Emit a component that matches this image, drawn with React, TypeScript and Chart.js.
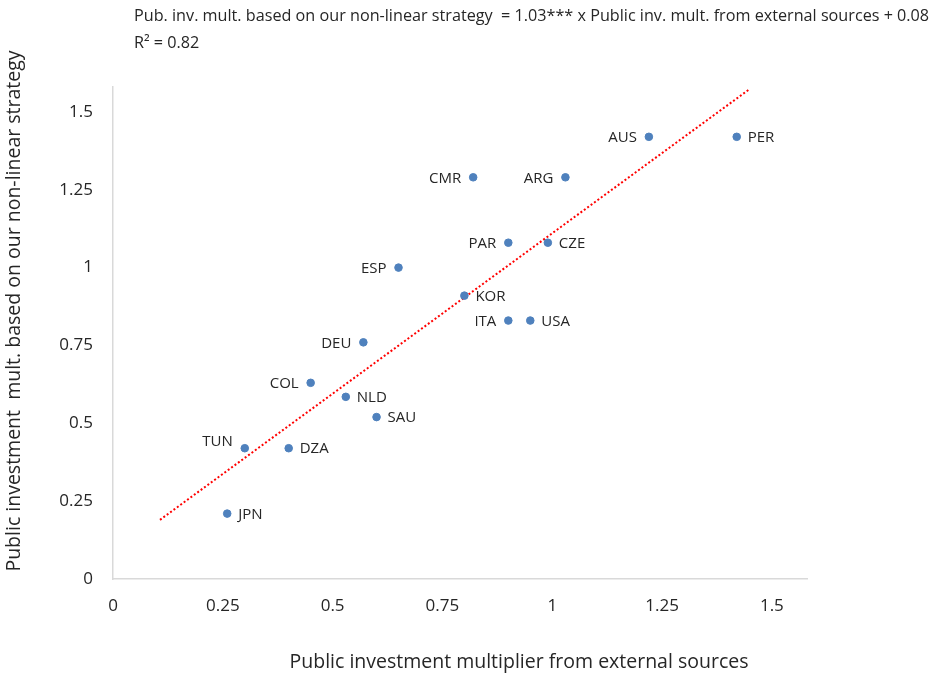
import React, { useEffect, useRef } from "react";
import { Chart, registerables } from "chart.js";

Chart.register(...registerables);

const countries = ["AUS", "PER", "CMR", "ARG", "PAR", "CZE", "ESP", "KOR", "ITA", "USA", "DEU", "COL", "NLD", "SAU", "TUN", "DZA", "JPN"];
const externalMult = [1.22, 1.42, 0.82, 1.03, 0.9, 0.99, 0.65, 0.8, 0.9, 0.95, 0.57, 0.45, 0.53, 0.6, 0.3, 0.4, 0.26];
const nonLinearMult = [1.42, 1.42, 1.29, 1.29, 1.08, 1.08, 1.0, 0.91, 0.83, 0.83, 0.76, 0.63, 0.585, 0.52, 0.42, 0.42, 0.21];
const labelSide = ["left", "right", "left", "left", "left", "right", "left", "right", "left", "right", "left", "left", "right", "right", "left", "right", "right"];
const trendX = [0.107, 1.45];
const trendY = [0.19, 1.574];
const tickValues = [0, 0.25, 0.5, 0.75, 1, 1.25, 1.5];
const titleLine1 = "Pub. inv. mult. based on our non-linear strategy  = 1.03*** x Public inv. mult. from external sources + 0.08";
const titleLine2 = "R² = 0.82";
const xTitle = "Public investment multiplier from external sources";
const yTitle = "Public investment  mult. based on our non-linear strategy";

const FONT = "'Open Sans', 'Noto Sans', sans-serif";

const textPlugin = {
  id: "customText",
  afterDatasetsDraw(chart: any) {
    const ctx = chart.ctx;
    const meta = chart.getDatasetMeta(0);
    ctx.save();
    ctx.fillStyle = "#262626";
    ctx.font = `15px ${FONT}`;
    ctx.textBaseline = "middle";
    meta.data.forEach((pt: any, i: number) => {
      const side = labelSide[i];
      const dy = countries[i] === "TUN" ? -6 : 1;
      if (side === "left") {
        ctx.textAlign = "right";
        ctx.fillText(countries[i], pt.x - 12, pt.y + dy);
      } else {
        ctx.textAlign = "left";
        ctx.fillText(countries[i], pt.x + 11, pt.y + dy);
      }
    });
    ctx.restore();
  },
  afterDraw(chart: any) {
    const ctx = chart.ctx;
    ctx.save();
    ctx.fillStyle = "#262626";
    ctx.textBaseline = "middle";
    ctx.textAlign = "left";
    ctx.font = `16.2px ${FONT}`;
    ctx.fillText(titleLine1, 134, 16);
    ctx.fillText(titleLine2, 134, 43);
    ctx.font = `19.5px ${FONT}`;
    ctx.textAlign = "center";
    ctx.fillText(xTitle, 519, 662);
    ctx.translate(14, 311);
    ctx.rotate(-Math.PI / 2);
    ctx.fillText(yTitle, 0, 0);
    ctx.restore();
  },
};

export default function App() {
  const ref = useRef<HTMLCanvasElement>(null);
  useEffect(() => {
    document.body.style.margin = "0";
    const canvas = ref.current!;
    const chart = new Chart(canvas, {
      type: "scatter",
      data: {
        datasets: [
          {
            label: "Countries",
            data: countries.map((_, i) => ({ x: externalMult[i], y: nonLinearMult[i] })),
            backgroundColor: "#4f81bd",
            borderColor: "#4f81bd",
            pointRadius: 3.8,
            pointHoverRadius: 3.8,
          },
          {
            type: "line",
            label: "Trend",
            data: trendX.map((x, i) => ({ x, y: trendY[i] })),
            borderColor: "#ff0000",
            borderWidth: 2,
            borderDash: [2, 2.2],
            pointRadius: 0,
            fill: false,
            clip: false as any,
          } as any,
        ],
      },
      options: {
        responsive: false,
        animation: false,
        layout: { padding: { top: 87, right: 135, left: 0, bottom: 0 } },
        plugins: { legend: { display: false }, tooltip: { enabled: false }, title: { display: false } },
        scales: {
          x: {
            type: "linear",
            min: 0,
            max: 1.58,
            afterBuildTicks: (s: any) => {
              s.ticks = tickValues.map((v) => ({ value: v }));
            },
            afterFit: (s: any) => {
              s.height = 98;
            },
            grid: { display: false },
            border: { display: true, color: "#d9d9d9", width: 1.5 },
            ticks: {
              padding: 9,
              color: "#262626",
              font: { family: FONT, size: 17 },
              callback: (v: any) => String(v),
              maxRotation: 0,
            },
          },
          y: {
            type: "linear",
            min: 0,
            max: 1.58,
            afterBuildTicks: (s: any) => {
              s.ticks = tickValues.map((v) => ({ value: v }));
            },
            afterFit: (s: any) => {
              s.width = 113;
            },
            grid: { display: false },
            border: { display: true, color: "#d9d9d9", width: 1.5 },
            ticks: {
              padding: 12,
              color: "#262626",
              font: { family: FONT, size: 17 },
              callback: (v: any) => String(v),
            },
          },
        },
      },
      plugins: [textPlugin],
    });
    return () => chart.destroy();
  }, []);
  return <canvas ref={ref} width={942} height={677} style={{ display: "block" }} />;
}
